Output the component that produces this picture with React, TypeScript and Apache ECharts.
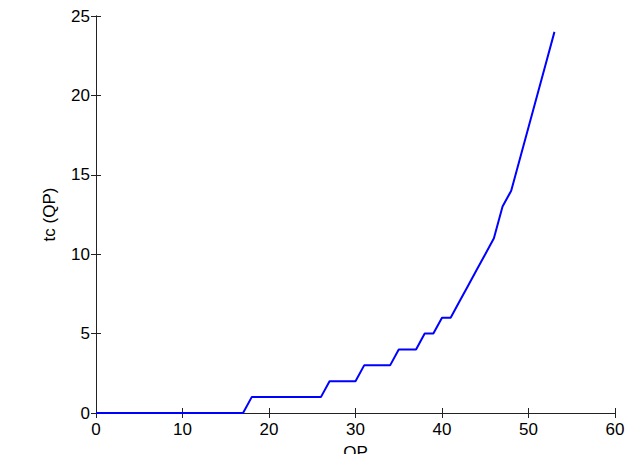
import React, { useEffect, useRef } from "react";
import * as echarts from "echarts";

const qp = [
  0, 1, 2, 3, 4, 5, 6, 7, 8, 9, 10, 11, 12, 13, 14, 15, 16, 17, 18, 19, 20,
  21, 22, 23, 24, 25, 26, 27, 28, 29, 30, 31, 32, 33, 34, 35, 36, 37, 38, 39,
  40, 41, 42, 43, 44, 45, 46, 47, 48, 49, 50, 51, 52, 53,
];
const tc = [
  0, 0, 0, 0, 0, 0, 0, 0, 0, 0, 0, 0, 0, 0, 0, 0, 0, 0, 1, 1, 1, 1, 1, 1, 1,
  1, 1, 2, 2, 2, 2, 3, 3, 3, 3, 4, 4, 4, 5, 5, 6, 6, 7, 8, 9, 10, 11, 13, 14,
  16, 18, 20, 22, 24,
];
const xTicks = { min: 0, max: 60, interval: 10 };
const yTicks = { min: 0, max: 25, interval: 5 };
const xName = "QP";
const yName = "tc (QP)";

const FONT = "'Liberation Sans', Arial, Helvetica, sans-serif";

export default function App() {
  const ref = useRef<HTMLDivElement>(null);
  useEffect(() => {
    if (!ref.current) return;
    const chart = echarts.init(ref.current, null, { renderer: "svg" });
    const axisLine = { show: true, lineStyle: { color: "#222", width: 1 } };
    const tick = { show: true, inside: true, length: 5, lineStyle: { color: "#222", width: 1 } };
    const label = { color: "#000", fontSize: 17, fontFamily: FONT };
    chart.setOption({
      animation: false,
      backgroundColor: "#fff",
      grid: {
        left: 96,
        right: 26,
        top: 16,
        bottom: 41,
        containLabel: false,
        outerBoundsMode: "none",
      },
      xAxis: [
        {
          type: "value",
          ...xTicks,
          position: "bottom",
          axisLine,
          axisTick: tick,
          axisLabel: { ...label, margin: 8 },
          splitLine: { show: false },
          name: xName,
          nameLocation: "middle",
          nameGap: 31,
          nameTextStyle: { color: "#000", fontSize: 17, fontFamily: FONT, verticalAlign: "top" },
        },
        {
          type: "value",
          ...xTicks,
          position: "top",
          axisLine,
          axisTick: tick,
          axisLabel: { show: false },
          splitLine: { show: false },
        },
      ],
      yAxis: [
        {
          type: "value",
          ...yTicks,
          position: "left",
          axisLine,
          axisTick: tick,
          axisLabel: { ...label, margin: 6 },
          splitLine: { show: false },
          name: yName,
          nameLocation: "middle",
          nameGap: 38,
          nameTextStyle: { color: "#000", fontSize: 17, fontFamily: FONT },
        },
        {
          type: "value",
          ...yTicks,
          position: "right",
          axisLine,
          axisTick: tick,
          axisLabel: { show: false },
          splitLine: { show: false },
        },
      ],
      series: [
        {
          type: "line",
          data: qp.map((x, i) => [x, tc[i]]),
          showSymbol: false,
          symbol: "none",
          lineStyle: { color: "#0000ff", width: 2 },
          itemStyle: { color: "#0000ff" },
        },
      ],
    });
    return () => chart.dispose();
  }, []);
  return <div ref={ref} style={{ width: 641, height: 454, position: "absolute", left: 0, top: 0 }} />;
}
